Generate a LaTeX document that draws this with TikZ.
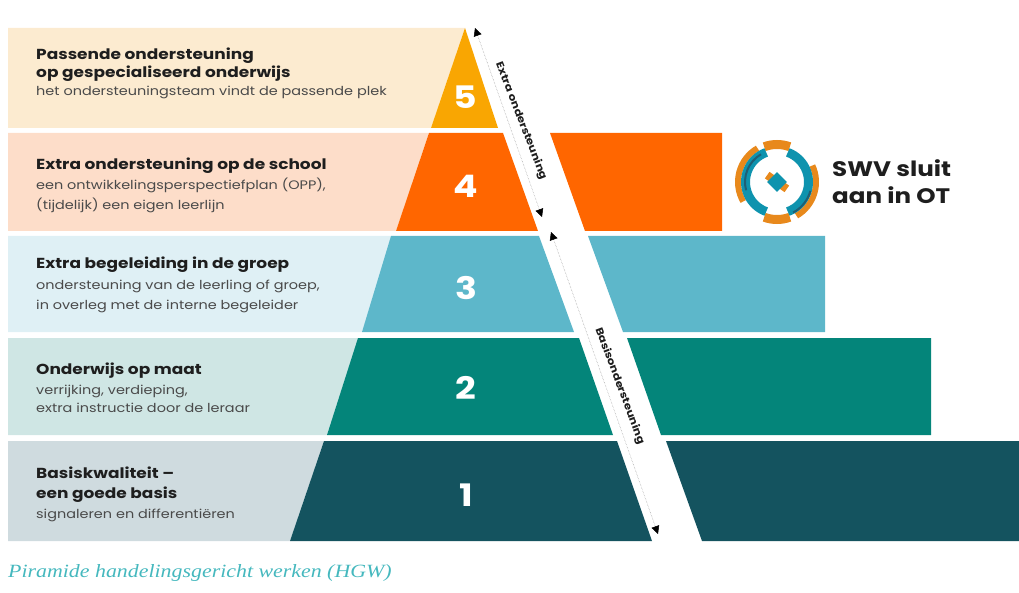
\documentclass[tikz,border=0pt]{standalone}
\usepackage{fontspec}
\setmainfont{Poppins}[FakeStretch=1.17]
\newfontfamily\capfont{Liberation Serif}[FakeStretch=1.17]
\usetikzlibrary{arrows.meta}
\definecolor{bgv}{HTML}{FCEBD0}\definecolor{bgiv}{HTML}{FDDDC9}\definecolor{bgiii}{HTML}{DFF0F5}
\definecolor{bgii}{HTML}{CFE6E4}\definecolor{bgi}{HTML}{CFDBDF}
\definecolor{cv}{HTML}{F9A602}\definecolor{civ}{HTML}{FF6600}\definecolor{ciii}{HTML}{5DB7CA}
\definecolor{cii}{HTML}{04857A}\definecolor{ci}{HTML}{14535F}
\definecolor{ink}{HTML}{1E1E1E}\definecolor{soft}{HTML}{4A4A4A}\definecolor{logoO}{HTML}{E8891C}\definecolor{logoT}{HTML}{0E93AE}
\definecolor{logoD}{HTML}{1F5F75}\definecolor{capcol}{HTML}{45B8BE}
\tikzset{x=1pt,y=-1pt,
 num/.style={text=white,font=\fontsize{31}{31}\selectfont\bfseries,inner sep=0pt},
 rowtext/.style={anchor=north west,inner sep=0pt,align=left,text=soft,font=\fontsize{12.35}{18}\selectfont},
 side/.style={inner sep=0pt,text=ink,font=\fontsize{10.2}{10.2}\selectfont\bfseries},
 dim/.style={draw=black!40,densely dotted,line width=.5pt,{Triangle[length=8pt,width=8pt,black]}-{Triangle[length=8pt,width=8pt,black]}},
 seg/.style={line width=#1}}
\newcommand{\hd}[1]{{\color{ink}\fontsize{14.5}{18}\selectfont\bfseries #1}}
\begin{document}
\begin{tikzpicture}
\useasboundingbox (0,0) rectangle (1019,593);
% background bands
\fill[bgv] (8,28) -- (465,28) -- (431,128) -- (8,128) -- cycle;
\fill[bgiv] (8,133) -- (429,133) -- (396,231) -- (8,231) -- cycle;
\fill[bgiii] (8,236) -- (394,236) -- (362,332) -- (8,332) -- cycle;
\fill[bgii] (8,338) -- (359,338) -- (327,435) -- (8,435) -- cycle;
\fill[bgi] (8,441) -- (324,441) -- (290,541) -- (8,541) -- cycle;
% pyramid left parts
\fill[cv] (465,28) -- (498,128) -- (431,128) -- cycle;
\fill[civ] (429,133) -- (503,133) -- (538,231) -- (396,231) -- cycle;
\fill[ciii] (391,236) -- (539,236) -- (574,332) -- (362,332) -- cycle;
\fill[cii] (358,338) -- (579,338) -- (613,435) -- (327,435) -- cycle;
\fill[ci] (324,441) -- (617,441) -- (652,541) -- (290,541) -- cycle;
% right parts
\fill[civ] (550,133) -- (722,133) -- (722,231) -- (585,231) -- cycle;
\fill[ciii] (588,236) -- (825,236) -- (825,332) -- (623,332) -- cycle;
\fill[cii] (627,338) -- (931,338) -- (931,435) -- (661,435) -- cycle;
\fill[ci] (666,441) -- (1019,441) -- (1019,541) -- (702,541) -- cycle;
% numbers
\node[num] (n5) at (465,97) {5};
\node[num] (n4) at (466,186) {4};
\node[num] (n3) at (466,288) {3};
\node[num] (n2) at (466,388) {2};
\node[num] (n1) at (466,495) {1};
% texts
\node[rowtext] (t5) at (36,48) {\hd{Passende ondersteuning}\\\hd{op gespecialiseerd onderwijs}\\het ondersteuningsteam vindt de passende plek};
\node[rowtext] (t4) at (36,158) {\hd{Extra ondersteuning op de school}\\[2pt]een ontwikkelingsperspectiefplan (OPP),\\[2pt](tijdelijk) een eigen leerlijn};
\node[rowtext] (t3) at (36,257) {\hd{Extra begeleiding in de groep}\\[3pt]ondersteuning van de leerling of groep,\\[2pt]in overleg met de interne begeleider};
\node[rowtext] (t2) at (36,363) {\hd{Onderwijs op maat}\\[2pt]verrijking, verdieping,\\extra instructie door de leraar};
\node[rowtext] (t1) at (36,467) {\hd{Basiskwaliteit –}\\[2pt]\hd{een goede basis}\\[2pt]signaleren en differentiëren};
% side dimension arrows
\coordinate (a1) at (475,28);\coordinate (a2) at (542,217);
\coordinate (b1) at (551,232);\coordinate (b2) at (658,534);
\draw[dim] (a1) -- (a2);
\draw[dim] (b1) -- (b2);
\node[side,rotate=-68.7] (sa) at (521,121) {Extra ondersteuning};
\node[side,rotate=-69.5] (sb) at (619.5,386) {Basisondersteuning};
% logo
\coordinate (lc) at (777,182);
\begin{scope}[shift={(lc)}]
\draw[seg=6pt,logoO] (60:39) arc[start angle=60,end angle=-25,radius=39];
\draw[seg=6pt,logoO] (150:39) arc[start angle=150,end angle=240,radius=39];
\draw[seg=9pt,logoO] (70:37.5) arc[start angle=70,end angle=110,radius=37.5];
\draw[seg=9pt,logoO] (250:37.5) arc[start angle=250,end angle=290,radius=37.5];
\draw[seg=9pt,logoT] (70:31.5) arc[start angle=70,end angle=-70,radius=31.5];
\draw[seg=9pt,logoT] (110:31.5) arc[start angle=110,end angle=250,radius=31.5];
\draw[seg=2pt,logoD] (165:32) arc[start angle=165,end angle=240,radius=32];
\draw[seg=2pt,logoD] (62:34.5) arc[start angle=62,end angle=15,radius=34.5];
\fill[logoO,rotate=-35] (-12,-4) rectangle (12,4);
\fill[logoT,rotate=45] (-7,-7) rectangle (7,7);
\end{scope}
\node[anchor=north west,inner sep=0pt,align=left,text=ink,font=\fontsize{21}{27}\selectfont\bfseries] (swv) at (832,159) {SWV sluit\\aan in OT};
% caption
\node[anchor=west,inner sep=0pt,text=capcol,font=\capfont\itshape\fontsize{18.7}{18.7}\selectfont] (cap) at (8,573) {Piramide handelingsgericht werken (HGW)};
\end{tikzpicture}
\end{document}
